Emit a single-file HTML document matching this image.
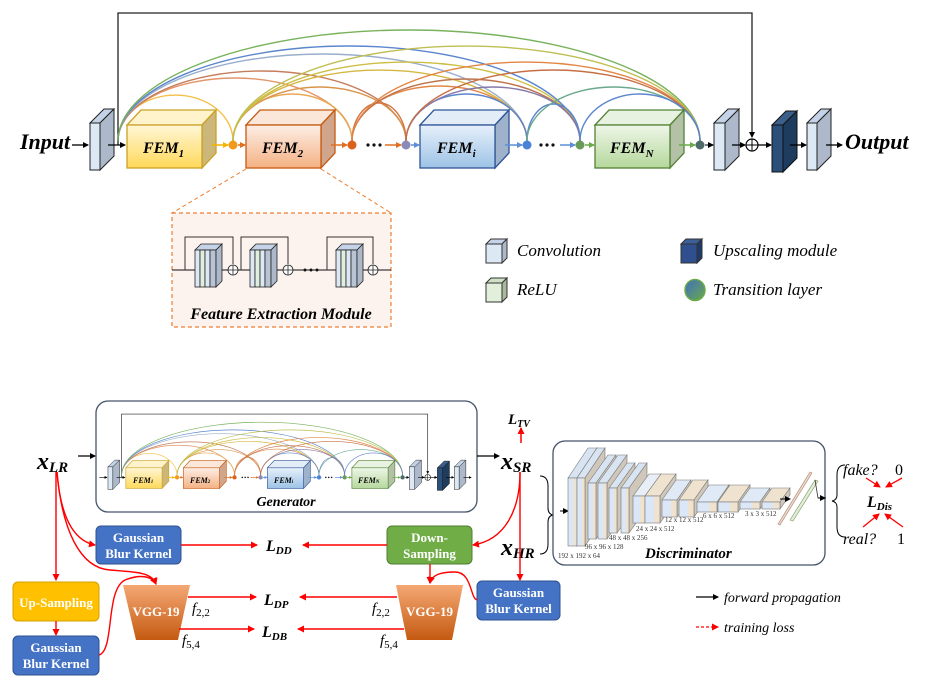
<!DOCTYPE html>
<html><head><meta charset="utf-8"><style>
html,body{margin:0;padding:0;background:#fff}
svg{display:block}
text{font-family:"Liberation Serif",serif}
.bi{font-weight:bold;font-style:italic}
.it{font-style:italic}
.wb{fill:#fff;font-weight:bold;font-size:13px;text-anchor:middle}
</style></head><body>
<svg width="926" height="700" viewBox="0 0 926 700" xmlns="http://www.w3.org/2000/svg">
<defs>
<marker id="ab" markerWidth="6" markerHeight="6" refX="5" refY="3" orient="auto" markerUnits="userSpaceOnUse"><path d="M0,0L6,3L0,6z" fill="#000"/></marker>
<marker id="ar" markerWidth="7" markerHeight="7" refX="6" refY="3.5" orient="auto" markerUnits="userSpaceOnUse"><path d="M0,0L7,3.5L0,7z" fill="#f00"/></marker>
<marker id="ay" markerWidth="6" markerHeight="6" refX="5" refY="3" orient="auto" markerUnits="userSpaceOnUse"><path d="M0,0L6,3L0,6z" fill="#f5b400"/></marker>
<marker id="ao" markerWidth="6" markerHeight="6" refX="5" refY="3" orient="auto" markerUnits="userSpaceOnUse"><path d="M0,0L6,3L0,6z" fill="#e07020"/></marker>
<marker id="abl" markerWidth="6" markerHeight="6" refX="5" refY="3" orient="auto" markerUnits="userSpaceOnUse"><path d="M0,0L6,3L0,6z" fill="#5b8fd8"/></marker>
<marker id="ag" markerWidth="6" markerHeight="6" refX="5" refY="3" orient="auto" markerUnits="userSpaceOnUse"><path d="M0,0L6,3L0,6z" fill="#6aaa4a"/></marker>
<linearGradient id="gy" x1="0" y1="0" x2="0" y2="1"><stop offset="0" stop-color="#fff6d6"/><stop offset="1" stop-color="#ffd95a"/></linearGradient>
<linearGradient id="go" x1="0" y1="0" x2="0" y2="1"><stop offset="0" stop-color="#fdeee6"/><stop offset="1" stop-color="#f4b183"/></linearGradient>
<linearGradient id="gb" x1="0" y1="0" x2="0" y2="1"><stop offset="0" stop-color="#e6f0fa"/><stop offset="1" stop-color="#9dc3e6"/></linearGradient>
<linearGradient id="gg" x1="0" y1="0" x2="0" y2="1"><stop offset="0" stop-color="#eef6e8"/><stop offset="1" stop-color="#b5d89c"/></linearGradient>
<linearGradient id="gvgg" x1="0" y1="0" x2="0" y2="1"><stop offset="0" stop-color="#f4a874"/><stop offset="1" stop-color="#c55a11"/></linearGradient>
<linearGradient id="gt" x1="0" y1="0" x2="1" y2="1"><stop offset="0" stop-color="#3f6fc0"/><stop offset="1" stop-color="#6aaa4a"/></linearGradient>
<linearGradient id="gd" x1="0" y1="0" x2="1" y2="0"><stop offset="0" stop-color="#dbe7f6"/><stop offset="0.6" stop-color="#dbe7f6"/><stop offset="0.6" stop-color="#efe3cf"/><stop offset="1" stop-color="#efe3cf"/></linearGradient>
</defs>

<!-- ============ GENERATOR (top) ============ -->
<g id="gen">
<polyline points="118,145 118,13 752,13 752,137" fill="none" stroke="#222" stroke-width="1.3" marker-end="url(#ab)"/>
<!-- arcs -->
<g fill="none" stroke-width="1.4" opacity="0.9">
<path d="M118,141 A57.5,46 0 0 1 233,141" stroke="#f5b731"/>
<path d="M118,141 A117,63 0 0 1 352,141" stroke="#e08a5a"/>
<path d="M118,141 A144,70 0 0 1 406,141" stroke="#c0704a"/>
<path d="M118,141 A204.5,87 0 0 1 527,141" stroke="#8fa6c8"/>
<path d="M118,141 A231,95 0 0 1 580,141" stroke="#4a78c8"/>
<path d="M118,141 A291,111 0 0 1 700,141" stroke="#6aaa4a"/>
<path d="M233,141 A59.5,47 0 0 1 352,141" stroke="#e6a040"/>
<path d="M233,141 A86.5,54 0 0 1 406,141" stroke="#d48a3a"/>
<path d="M233,141 A147,71 0 0 1 527,141" stroke="#d0b030"/>
<path d="M233,141 A173.5,79 0 0 1 580,141" stroke="#c8b830"/>
<path d="M233,141 A233.5,95 0 0 1 700,141" stroke="#b8b840"/>
<path d="M352,141 A27,38 0 0 1 406,141" stroke="#d0682a"/>
<path d="M352,141 A87.5,55 0 0 1 527,141" stroke="#e07a33"/>
<path d="M352,141 A114,62 0 0 1 580,141" stroke="#b8653a"/>
<path d="M352,141 A174,79 0 0 1 700,141" stroke="#e07a33"/>
<path d="M406,141 A60.5,47 0 0 1 527,141" stroke="#4a78c8"/>
<path d="M406,141 A87,54 0 0 1 580,141" stroke="#7a6aa0"/>
<path d="M406,141 A147,71 0 0 1 700,141" stroke="#c06030"/>
<path d="M527,141 A26.5,37 0 0 1 580,141" stroke="#4a78c8"/>
<path d="M527,141 A86.5,54 0 0 1 700,141" stroke="#5aa080"/>
<path d="M580,141 A60,47 0 0 1 700,141" stroke="#4a78c8"/>
</g>
<!-- conv slab 1 -->
<polygon points="90,123 104,109 114,109 100,123" fill="#c5d3e8" stroke="#222"/>
<polygon points="100,123 114,109 114,156 100,170" fill="#adb9ca" stroke="#222"/>
<rect x="90" y="123" width="10" height="47" fill="#dde8f5" stroke="#222"/>
<line x1="72" y1="145" x2="88" y2="145" stroke="#000" stroke-width="1.3" marker-end="url(#ab)"/>
<line x1="108" y1="145" x2="125" y2="145" stroke="#000" stroke-width="1.3" marker-end="url(#ab)"/>
<!-- FEM1 -->
<polygon points="127,125 141,110 216,110 202,125" fill="#fff3cc" stroke="#c9a227" stroke-width="1.3"/>
<polygon points="202,125 216,110 216,153 202,168" fill="#cbb77a" stroke="#c9a227" stroke-width="1.3"/>
<rect x="127" y="125" width="75" height="43" fill="url(#gy)" stroke="#c9a227" stroke-width="1.3"/>
<!-- FEM2 -->
<polygon points="246,125 260,110 335,110 321,125" fill="#fbe6da" stroke="#c55a11" stroke-width="1.3"/>
<polygon points="321,125 335,110 335,153 321,168" fill="#d0a58c" stroke="#c55a11" stroke-width="1.3"/>
<rect x="246" y="125" width="75" height="43" fill="url(#go)" stroke="#c55a11" stroke-width="1.3"/>
<!-- FEMi -->
<polygon points="420,125 434,110 509,110 495,125" fill="#e2edf8" stroke="#2f5597" stroke-width="1.3"/>
<polygon points="495,125 509,110 509,153 495,168" fill="#9fb2cc" stroke="#2f5597" stroke-width="1.3"/>
<rect x="420" y="125" width="75" height="43" fill="url(#gb)" stroke="#2f5597" stroke-width="1.3"/>
<!-- FEMN -->
<polygon points="595,125 609,110 684,110 670,125" fill="#e8f2e0" stroke="#548235" stroke-width="1.3"/>
<polygon points="670,125 684,110 684,153 670,168" fill="#b3c2a6" stroke="#548235" stroke-width="1.3"/>
<rect x="595" y="125" width="75" height="43" fill="url(#gg)" stroke="#548235" stroke-width="1.3"/>
<!-- flow -->
<g stroke-width="1.5">
<line x1="212" y1="145" x2="228" y2="145" stroke="#f5b400" marker-end="url(#ay)"/>
<line x1="238" y1="145" x2="245" y2="145" stroke="#e07020" marker-end="url(#ao)"/>
<line x1="331" y1="145" x2="347" y2="145" stroke="#e07020" marker-end="url(#ao)"/>
<line x1="385" y1="145" x2="401" y2="145" stroke="#e07020" marker-end="url(#ao)"/>
<line x1="411" y1="145" x2="419" y2="145" stroke="#5b8fd8" marker-end="url(#abl)"/>
<line x1="505" y1="145" x2="522" y2="145" stroke="#5b8fd8" marker-end="url(#abl)"/>
<line x1="560" y1="145" x2="575" y2="145" stroke="#5b8fd8" marker-end="url(#abl)"/>
<line x1="585" y1="145" x2="594" y2="145" stroke="#6aaa4a" marker-end="url(#ag)"/>
<line x1="679" y1="145" x2="695" y2="145" stroke="#6aaa4a" marker-end="url(#ag)"/>
<line x1="705" y1="145" x2="713" y2="145" stroke="#44546a" marker-end="url(#ab)"/>
</g>
<circle cx="233" cy="145" r="4.5" fill="#f39a1c"/>
<circle cx="352" cy="145" r="4.5" fill="#d9621c"/>
<circle cx="406" cy="145" r="4.5" fill="#8a8ab8"/>
<circle cx="527" cy="145" r="4.5" fill="#4a82d8"/>
<circle cx="580" cy="145" r="4.5" fill="#6a9a5a"/>
<circle cx="700" cy="145" r="4.5" fill="#4f6a6a"/>
<g fill="#111"><circle cx="368" cy="145" r="1.6"/><circle cx="374" cy="145" r="1.6"/><circle cx="380" cy="145" r="1.6"/>
<circle cx="541" cy="145" r="1.6"/><circle cx="547" cy="145" r="1.6"/><circle cx="553" cy="145" r="1.6"/></g>
<!-- conv slab 2 -->
<polygon points="714,123 728,109 739,109 725,123" fill="#c5d3e8" stroke="#222"/>
<polygon points="725,123 739,109 739,156 725,170" fill="#adb9ca" stroke="#222"/>
<rect x="714" y="123" width="11" height="47" fill="#dde8f5" stroke="#222"/>
<line x1="732" y1="145" x2="745" y2="145" stroke="#000" stroke-width="1.3" marker-end="url(#ab)"/>
<circle cx="752" cy="145" r="6" fill="#fff" stroke="#000" stroke-width="1.2"/>
<line x1="746" y1="145" x2="758" y2="145" stroke="#000"/><line x1="752" y1="139" x2="752" y2="151" stroke="#000"/>
<line x1="758" y1="145" x2="771" y2="145" stroke="#000" stroke-width="1.3" marker-end="url(#ab)"/>
<!-- upscaling -->
<polygon points="772,125 786,111 797,111 783,125" fill="#3c5f8a" stroke="#111"/>
<polygon points="783,125 797,111 797,158 783,172" fill="#1d3c5e" stroke="#111"/>
<rect x="772" y="125" width="11" height="47" fill="#2a4f78" stroke="#111"/>
<line x1="790" y1="145" x2="806" y2="145" stroke="#000" stroke-width="1.3" marker-end="url(#ab)"/>
<polygon points="807,123 821,109 831,109 817,123" fill="#c5d3e8" stroke="#222"/>
<polygon points="817,123 831,109 831,156 817,170" fill="#adb9ca" stroke="#222"/>
<rect x="807" y="123" width="10" height="47" fill="#dde8f5" stroke="#222"/>
<line x1="826" y1="145" x2="842" y2="145" stroke="#000" stroke-width="1.3" marker-end="url(#ab)"/>
</g>

<text x="20" y="149" class="bi" font-size="22">Input</text>
<text x="845" y="149" class="bi" font-size="22">Output</text>
<text x="143" y="153" class="bi" font-size="16">FEM<tspan font-size="11" dy="4">1</tspan></text>
<text x="262" y="153" class="bi" font-size="16">FEM<tspan font-size="11" dy="4">2</tspan></text>
<text x="437" y="153" class="bi" font-size="16">FEM<tspan font-size="11" dy="4">i</tspan></text>
<text x="610" y="153" class="bi" font-size="16">FEM<tspan font-size="11" dy="4">N</tspan></text>

<!-- FEM detail -->
<line x1="246" y1="169" x2="172" y2="213" stroke="#ed7d31" stroke-dasharray="4,3"/>
<line x1="321" y1="169" x2="391" y2="213" stroke="#ed7d31" stroke-dasharray="4,3"/>
<rect x="172" y="213" width="219" height="114" fill="#fdf3ee" stroke="#ed7d31" stroke-dasharray="4,3" stroke-width="1.2"/>
<line x1="172" y1="270" x2="391" y2="270" stroke="#111" stroke-width="1"/>
<g fill="none" stroke="#333" stroke-width="1">
<polyline points="185,270 185,237 233,237 233,264"/>
<polyline points="241,270 241,237 288,237 288,264"/>
<polyline points="327,270 327,237 373,237 373,264"/>
</g>
<g stroke="#222" stroke-width="0.8">
<g id="blk">
<polygon points="195,250 201,244 222,244 216,250" fill="#c5d3e8"/>
<rect x="195" y="250" width="5" height="37" fill="#dde8f5"/>
<rect x="200" y="250" width="5" height="37" fill="#dfeedd"/>
<rect x="205" y="250" width="5" height="37" fill="#dde8f5"/>
<rect x="210" y="250" width="6" height="37" fill="#b8c4d4"/>
<polygon points="216,250 222,244 222,281 216,287" fill="#adb9ca"/>
</g>
<use href="#blk" x="55"/>
<use href="#blk" x="141"/>
<circle cx="233" cy="270" r="5" fill="#fff"/><circle cx="288" cy="270" r="5" fill="#fff"/><circle cx="373" cy="270" r="5" fill="#fff"/>
<path d="M228,270h10M233,265v10M283,270h10M288,265v10M368,270h10M373,265v10"/>
</g>
<g fill="#111"><circle cx="305" cy="270" r="1.5"/><circle cx="311" cy="270" r="1.5"/><circle cx="317" cy="270" r="1.5"/></g>
<text x="281" y="319" class="bi" font-size="16" text-anchor="middle">Feature Extraction Module</text>

<!-- Legend -->
<g stroke="#333" stroke-width="1">
<polygon points="486,244 491,239 507,239 502,244" fill="#c5d3e8"/><rect x="486" y="244" width="16" height="19" fill="#dde8f5"/><polygon points="502,244 507,239 507,258 502,263" fill="#adb9ca"/>
<polygon points="486,283 491,278 507,278 502,283" fill="#cfe0c4"/><rect x="486" y="283" width="16" height="19" fill="#e2efda"/><polygon points="502,283 507,278 507,297 502,302" fill="#a9b99c"/>
<polygon points="681,244 686,239 702,239 697,244" fill="#3c5f9a"/><rect x="681" y="244" width="16" height="19" fill="#2f4f8f"/><polygon points="697,244 702,239 702,258 697,263" fill="#203a6a"/>
</g>
<ellipse cx="695" cy="290" rx="10" ry="10.5" fill="url(#gt)" stroke="#6aaa4a" stroke-width="1.5"/>
<text x="517" y="256" class="it" font-size="17">Convolution</text>
<text x="517" y="295" class="it" font-size="17">ReLU</text>
<text x="713" y="256" class="it" font-size="17">Upscaling module</text>
<text x="713" y="295" class="it" font-size="17">Transition layer</text>

<!-- ============ BOTTOM ============ -->
<rect x="96" y="401" width="381" height="111" rx="12" fill="#fff" stroke="#44546a" stroke-width="1.3"/>
<use href="#gen" transform="matrix(0.483 0 0 0.48 64.5 407.8)"/>
<g class="bi" font-size="8"><text x="133" y="483">FEM<tspan font-size="5">1</tspan></text><text x="190" y="483">FEM<tspan font-size="5">2</tspan></text><text x="274" y="483">FEM<tspan font-size="5">i</tspan></text><text x="358" y="483">FEM<tspan font-size="5">N</tspan></text></g>
<text x="286" y="506" class="bi" font-size="14" text-anchor="middle">Generator</text>

<text x="37" y="469" class="bi" font-size="24">x<tspan font-size="15" dy="3">LR</tspan></text>
<line x1="78" y1="456" x2="95" y2="456" stroke="#000" stroke-width="1.3" marker-end="url(#ab)"/>
<line x1="477" y1="456" x2="499" y2="456" stroke="#000" stroke-width="1.3" marker-end="url(#ab)"/>
<text x="501" y="469" class="bi" font-size="24">x<tspan font-size="15" dy="3">SR</tspan></text>
<text x="501" y="555" class="bi" font-size="24">x<tspan font-size="15" dy="3">HR</tspan></text>
<text x="508" y="424" class="bi" font-size="15">L<tspan font-size="10" dy="3">TV</tspan></text>
<line x1="521" y1="443" x2="521" y2="428" stroke="#f00" stroke-width="1.5" marker-end="url(#ar)"/>
<path d="M540,476 q8,0 8,10 v22 q0,6 5,7 q-5,1 -5,7 v22 q0,10 -8,10" fill="none" stroke="#000" stroke-width="1"/>

<!-- boxes -->
<rect x="96" y="526" width="85" height="38" rx="5" fill="#4472c4" stroke="#2f528f"/>
<text x="138.5" y="542" class="wb">Gaussian</text><text x="138.5" y="558" class="wb">Blur Kernel</text>
<rect x="387" y="526" width="85" height="38" rx="5" fill="#70ad47" stroke="#507e32"/>
<text x="429.5" y="542" class="wb">Down-</text><text x="429.5" y="558" class="wb">Sampling</text>
<rect x="477" y="581" width="83" height="39" rx="5" fill="#4472c4" stroke="#2f528f"/>
<text x="518.5" y="597" class="wb">Gaussian</text><text x="518.5" y="613" class="wb">Blur Kernel</text>
<rect x="13" y="582" width="86" height="39" rx="5" fill="#ffc000" stroke="#d6a000"/>
<text x="56" y="607" class="wb">Up-Sampling</text>
<rect x="13" y="636" width="86" height="39" rx="5" fill="#4472c4" stroke="#2f528f"/>
<text x="56" y="652" class="wb">Gaussian</text><text x="56" y="668" class="wb">Blur Kernel</text>
<polygon points="123,585 190,585 178,640 136,640" fill="url(#gvgg)"/>
<text x="156" y="616" class="wb" font-size="14">VGG-19</text>
<polygon points="396,585 463,585 452,640 407,640" fill="url(#gvgg)"/>
<text x="429.5" y="616" class="wb" font-size="14">VGG-19</text>

<g class="bi" font-size="16">
<text x="266" y="551">L<tspan font-size="11" dy="3">DD</tspan></text>
<text x="264" y="605">L<tspan font-size="11" dy="3">DP</tspan></text>
<text x="262" y="637">L<tspan font-size="11" dy="3">DB</tspan></text>
</g>
<g class="it" font-size="15">
<text x="192" y="613">f<tspan font-size="11" dy="3" font-style="normal">2,2</tspan></text>
<text x="182" y="645">f<tspan font-size="11" dy="3" font-style="normal">5,4</tspan></text>
<text x="372" y="613">f<tspan font-size="11" dy="3" font-style="normal">2,2</tspan></text>
<text x="380" y="645">f<tspan font-size="11" dy="3" font-style="normal">5,4</tspan></text>
</g>

<!-- red lines -->
<g fill="none" stroke="#f00" stroke-width="1.4">
<line x1="181" y1="545" x2="257" y2="545" marker-end="url(#ar)"/>
<line x1="387" y1="545" x2="303" y2="545" marker-end="url(#ar)"/>
<line x1="188" y1="597" x2="256" y2="597" marker-end="url(#ar)"/>
<line x1="397" y1="597" x2="300" y2="597" marker-end="url(#ar)"/>
<line x1="179" y1="629" x2="254" y2="629" marker-end="url(#ar)"/>
<line x1="404" y1="629" x2="298" y2="629" marker-end="url(#ar)"/>
<line x1="56" y1="472" x2="56" y2="580" marker-end="url(#ar)"/>
<line x1="56" y1="621" x2="56" y2="635" marker-end="url(#ar)"/>
<path d="M57,472 C60,510 70,540 95,545" marker-end="url(#ar)"/>
<path d="M57,472 C62,530 80,568 110,570 C135,572 152,572 156,584" marker-end="url(#ar)"/>
<path d="M99,655 C115,650 105,590 125,580 C140,574 152,576 156,584" marker-end="url(#ar)"/>
<path d="M520,472 C520,510 505,540 473,545" marker-end="url(#ar)"/>
<line x1="520" y1="472" x2="520" y2="580" marker-end="url(#ar)"/>
<path d="M430,564 V583" marker-end="url(#ar)"/>
<path d="M477,600 C470,598 472,572 455,572 C440,572 432,575 430,583" marker-end="url(#ar)"/>
</g>

<!-- Discriminator -->
<rect x="553" y="441" width="272" height="124" rx="12" fill="#fff" stroke="#44546a" stroke-width="1.3"/>
<line x1="560" y1="511" x2="568" y2="511" stroke="#000" marker-end="url(#ab)"/>
<g stroke="#777" stroke-width="0.6">
<!-- pair: x, w, y1, y2, dx, dy -->
<g><polygon points="568,478 588,448 597,448 577,478" fill="#d8e4f2"/><polygon points="577,478 597,448 597,516 577,546" fill="#cfc7ba"/><rect x="568" y="478" width="9" height="68" fill="url(#gd)"/></g>
<g><polygon points="577,478 597,448 605,448 585,478" fill="#d8e4f2"/><polygon points="585,478 605,448 605,516 585,546" fill="#cfc7ba"/><rect x="577" y="478" width="8" height="68" fill="url(#gd)"/></g>
<g><polygon points="588,483 608,455 616,455 596,483" fill="#d8e4f2"/><polygon points="596,483 616,455 616,511 596,539" fill="#cfc7ba"/><rect x="588" y="483" width="8" height="56" fill="url(#gd)"/></g>
<g><polygon points="598,483 618,455 627,455 607,483" fill="#d8e4f2"/><polygon points="607,483 627,455 627,511 607,539" fill="#cfc7ba"/><rect x="598" y="483" width="9" height="56" fill="url(#gd)"/></g>
<g><polygon points="609,488 627,463 635,463 617,488" fill="#d8e4f2"/><polygon points="617,488 635,463 635,508 617,533" fill="#cfc7ba"/><rect x="609" y="488" width="8" height="45" fill="url(#gd)"/></g>
<g><polygon points="621,488 639,463 647,463 629,488" fill="#d8e4f2"/><polygon points="629,488 647,463 647,508 629,533" fill="#cfc7ba"/><rect x="621" y="488" width="8" height="45" fill="url(#gd)"/></g>
<g><polygon points="633,496 649,474 661,474 645,496" fill="#e8eef6"/><polygon points="645,496 661,474 661,501 645,523" fill="#cfc7ba"/><rect x="633" y="496" width="12" height="27" fill="url(#gd)"/></g>
<g><polygon points="645,496 661,474 676,474 660,496" fill="#efe3cf"/><polygon points="660,496 676,474 676,501 660,523" fill="#cfc7ba"/><rect x="645" y="496" width="15" height="27" fill="url(#gd)"/></g>
<g><polygon points="662,500 676,480 691,480 677,500" fill="#e0eaf6"/><polygon points="677,500 691,480 691,497 677,517" fill="#cfc7ba"/><rect x="662" y="500" width="15" height="17" fill="url(#gd)"/></g>
<g><polygon points="679,500 693,480 708,480 694,500" fill="#efe3cf"/><polygon points="694,500 708,480 708,497 694,517" fill="#cfc7ba"/><rect x="679" y="500" width="15" height="17" fill="url(#gd)"/></g>
<g><polygon points="697,502 709,485 729,485 717,502" fill="#e0eaf6"/><polygon points="717,502 729,485 729,495 717,512" fill="#cfc7ba"/><rect x="697" y="502" width="20" height="10" fill="url(#gd)"/></g>
<g><polygon points="718,502 730,485 750,485 738,502" fill="#efe3cf"/><polygon points="738,502 750,485 750,495 738,512" fill="#cfc7ba"/><rect x="718" y="502" width="20" height="10" fill="url(#gd)"/></g>
<g><polygon points="740,502 750,488 770,488 760,502" fill="#e0eaf6"/><polygon points="760,502 770,488 770,495 760,509" fill="#cfc7ba"/><rect x="740" y="502" width="20" height="7" fill="url(#gd)"/></g>
<g><polygon points="762,502 772,488 790,488 780,502" fill="#efe3cf"/><polygon points="780,502 790,488 790,495 780,509" fill="#cfc7ba"/><rect x="762" y="502" width="18" height="7" fill="url(#gd)"/></g>
</g>
<line x1="780" y1="499" x2="790" y2="499" stroke="#000" marker-end="url(#ab)"/>
<polygon points="778,524 810,472 812,473 780,525" fill="#e8d8c8" stroke="#b08070" stroke-width="0.6"/>
<polygon points="790,520 815,480 818,481 793,521" fill="#e2ecd8" stroke="#7a9a60" stroke-width="0.6"/>
<polyline points="815,480 818,498 826,498" fill="none" stroke="#333" stroke-width="0.8"/>
<line x1="818" y1="498" x2="825" y2="498" stroke="#000" marker-end="url(#ab)"/>
<g font-size="7" fill="#333">
<text x="558" y="558">192 x 192 x 64</text>
<text x="585" y="549">96 x 96 x 128</text>
<text x="609" y="540">48 x 48 x 256</text>
<text x="636" y="531">24 x 24 x 512</text>
<text x="665" y="522">12 x 12 x 512</text>
<text x="703" y="518">6 x 6 x 512</text>
<text x="745" y="516">3 x 3 x 512</text>
</g>
<text x="645" y="558" class="bi" font-size="15">Discriminator</text>

<path d="M845,465 q-8,0 -8,10 v20 q0,5 -5,6 q5,1 5,6 v20 q0,10 8,10" fill="none" stroke="#000" stroke-width="1"/>
<text x="843" y="475" class="it" font-size="16">fake?</text>
<text x="895" y="475" font-size="16">0</text>
<text x="843" y="544" class="it" font-size="16">real?</text>
<text x="897" y="544" font-size="16">1</text>
<text x="867" y="507" class="bi" font-size="16" font-family="Liberation Sans">L<tspan font-size="11" dy="3">Dis</tspan></text>
<g stroke="#f00" stroke-width="1.3">
<line x1="866" y1="478" x2="880" y2="487" marker-end="url(#ar)"/>
<line x1="902" y1="478" x2="886" y2="487" marker-end="url(#ar)"/>
<line x1="863" y1="527" x2="879" y2="514" marker-end="url(#ar)"/>
<line x1="903" y1="527" x2="885" y2="514" marker-end="url(#ar)"/>
</g>

<!-- legend bottom -->
<line x1="696" y1="597" x2="718" y2="597" stroke="#000" stroke-width="1.3" marker-end="url(#ab)"/>
<text x="724" y="602" class="it" font-size="14">forward propagation</text>
<line x1="696" y1="627" x2="718" y2="627" stroke="#f00" stroke-width="1.3" stroke-dasharray="3,2" marker-end="url(#ar)"/>
<text x="724" y="632" class="it" font-size="14">training loss</text>
</svg>
</body></html>
